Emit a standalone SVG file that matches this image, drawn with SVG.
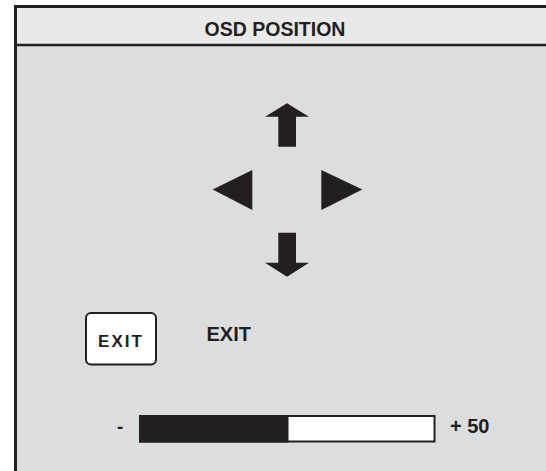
<svg xmlns="http://www.w3.org/2000/svg" width="546" height="471" viewBox="0 0 546 471">
<style>
.t{font-family:"Liberation Sans",Arial,sans-serif;font-weight:bold;fill:#231f20}
.ar{fill:#231f20}
</style>
<rect x="0" y="0" width="546" height="471" fill="#ffffff"/>
<g id="panel">
<rect x="15.5" y="45" width="540" height="436" fill="#dcdddf"/>
<rect x="15.5" y="6.5" width="540" height="38.5" fill="#e9e9ea"/>
<path d="M15.5 471V6.5H546" fill="none" stroke="#231f20" stroke-width="3"/>
<line x1="15.5" y1="45" x2="546" y2="45" stroke="#231f20" stroke-width="2.5"/>
<text class="t" x="275" y="36" font-size="19.5" text-anchor="middle">OSD POSITION</text>
</g>
<g id="arrow-up"><path class="ar" d="M287 103.3L309 116.7H296V146.7H278.3V116.7H265Z"/></g>
<g id="arrow-left"><path class="ar" d="M212.7 189.5L252.3 170V210Z"/></g>
<g id="arrow-right"><path class="ar" d="M362.3 189.5L321.3 170V210Z"/></g>
<g id="arrow-down"><path class="ar" d="M287 276.7L309 262.7H296V232.7H278.3V262.7H265Z"/></g>
<g id="exit-button">
<rect x="86" y="313" width="70" height="51.5" rx="5" fill="#ffffff" stroke="#231f20" stroke-width="2"/>
<text class="t" x="121" y="347" font-size="17" letter-spacing="2" text-anchor="middle">EXIT</text>
</g>
<g id="exit-label"><text class="t" x="206.5" y="340.7" font-size="20">EXIT</text></g>
<g id="slider">
<text class="t" x="117" y="432.5" font-size="19">-</text>
<rect x="140" y="416" width="294.5" height="25.5" fill="#ffffff" stroke="#231f20" stroke-width="2"/>
<rect x="139" y="415" width="149.5" height="27.5" fill="#231f20"/>
<text class="t" x="450" y="432.7" font-size="20">+ 50</text>
</g>
</svg>
